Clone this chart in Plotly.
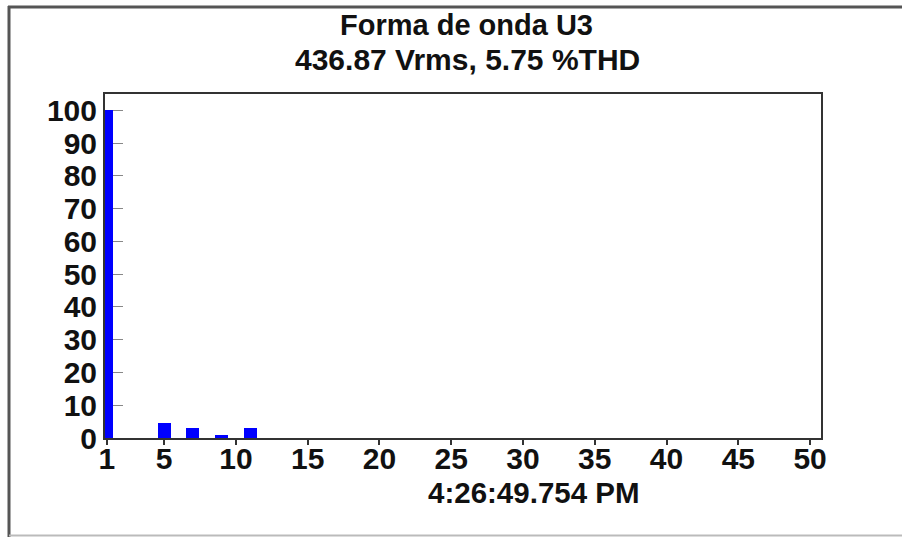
import plotly.graph_objects as go

# Data
harmonic_order = [1, 5, 7, 9, 11]
harmonic_pct = [100, 4.5, 3.0, 1.0, 3.0]
x_tick_vals = [1, 5, 10, 15, 20, 25, 30, 35, 40, 45, 50]
y_tick_vals = [0, 10, 20, 30, 40, 50, 60, 70, 80, 90, 100]
title_line1 = "Forma de onda U3"
title_line2 = "436.87 Vrms, 5.75 %THD"
x_label = "4:26:49.754 PM"

W, H = 902, 537
L, R, T, B = 105, 821, 94, 438  # plot area in pixels
pw, ph = R - L, B - T


def px(x):
    return (x - L) / pw


def py(y):
    return (B - y) / ph


FONT = "Liberation Sans, Arial, sans-serif"
TXT = "#111111"

fig = go.Figure()
fig.add_trace(go.Bar(x=harmonic_order, y=harmonic_pct, width=0.9,
                     marker=dict(color="#0000ff", line=dict(width=0))))

fig.update_layout(
    width=W, height=H,
    margin=dict(l=L, r=W - R, t=T, b=H - B),
    paper_bgcolor="white", plot_bgcolor="white",
    showlegend=False,
    font=dict(family=FONT, color=TXT),
    bargap=0,
)

fig.update_xaxes(
    range=[0.88, 50.76], tickvals=x_tick_vals,
    ticktext=["<b>%d</b>" % v for v in x_tick_vals],
    ticks="outside", ticklen=5, tickwidth=1.5, tickcolor="#333",
    ticklabelstandoff=-12,
    showline=True, mirror=True, linecolor="#333", linewidth=2,
    showgrid=False, zeroline=False,
    tickfont=dict(size=30, family=FONT, color=TXT),
)
fig.update_yaxes(
    range=[0, 105], tickvals=y_tick_vals,
    ticktext=["<b>%d</b>" % v for v in y_tick_vals],
    ticks="inside", ticklen=18, tickwidth=1, tickcolor="#888",
    showline=True, mirror=True, linecolor="#333", linewidth=2,
    showgrid=False, zeroline=False, layer="below traces",
    tickfont=dict(size=30, family=FONT, color=TXT),
)

annotations = [
    dict(text="<b>%s</b>" % title_line1, x=px(466), y=py(25), xref="paper", yref="paper",
         xanchor="center", yanchor="middle", showarrow=False,
         font=dict(size=29, family=FONT, color=TXT)),
    dict(text="<b>%s</b>" % title_line2, x=px(467), y=py(59), xref="paper", yref="paper",
         xanchor="center", yanchor="middle", showarrow=False,
         font=dict(size=30, family=FONT, color=TXT)),
    dict(text="<b>%s</b>" % x_label, x=px(534), y=py(492), xref="paper", yref="paper",
         xanchor="center", yanchor="middle", showarrow=False,
         font=dict(size=29.5, family=FONT, color=TXT)),
]
fig.update_layout(annotations=annotations)

# outer frame
shapes = [
    dict(type="line", xref="paper", yref="paper", x0=px(9), x1=px(9),
         y0=py(6), y1=py(540), line=dict(color="#555", width=3)),
    dict(type="line", xref="paper", yref="paper", x0=px(8), x1=px(905),
         y0=py(7), y1=py(7), line=dict(color="#555", width=3)),
    dict(type="line", xref="paper", yref="paper", x0=px(9), x1=px(905),
         y0=py(535.5), y1=py(535.5), line=dict(color="#bbb", width=2)),
]
fig.update_layout(shapes=shapes)

fig.write_html("out.html")
